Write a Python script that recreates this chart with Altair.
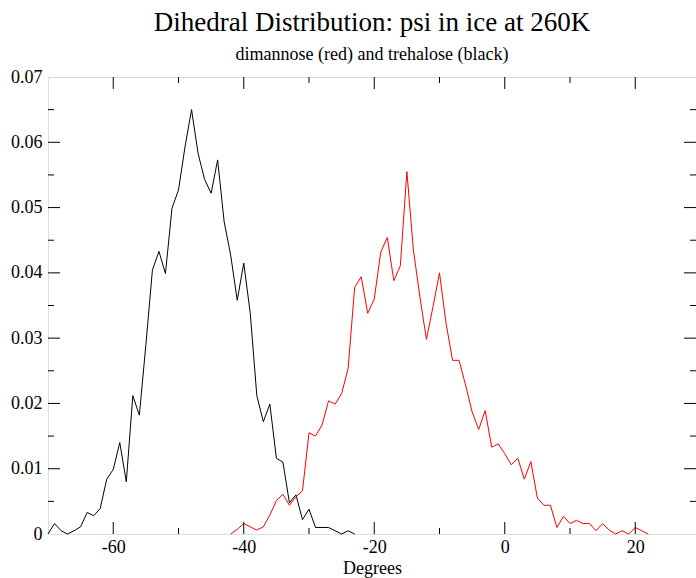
import altair as alt
import pandas as pd

# psi dihedral histograms (1-degree bins)
trehalose_angle = list(range(-70, -22))
trehalose_density = [
    0.0, 0.0016, 0.0005, 0.0, 0.0005, 0.0011, 0.0033, 0.0028, 0.0039, 0.0084,
    0.0099, 0.0140, 0.0080, 0.0212, 0.0182, 0.0290, 0.0404, 0.0433, 0.0399, 0.0499,
    0.0527, 0.0593, 0.0650, 0.0583, 0.0543, 0.0522, 0.0573, 0.0478, 0.0427, 0.0358,
    0.0415, 0.0338, 0.0212, 0.0172, 0.0199, 0.0116, 0.0110, 0.0048, 0.0060, 0.0022,
    0.0038, 0.0010, 0.0010, 0.0010, 0.0005, 0.0, 0.0005, 0.0,
]
dimannose_angle = list(range(-42, 23))
dimannose_density = [
    0.0, 0.0007, 0.0016, 0.0011, 0.0006, 0.0011, 0.0029, 0.0051, 0.0061, 0.0044,
    0.0057, 0.0066, 0.0155, 0.0150, 0.0167, 0.0204, 0.0199, 0.0215, 0.0254, 0.0378,
    0.0394, 0.0338, 0.0360, 0.0432, 0.0454, 0.0388, 0.0411, 0.0555, 0.0435, 0.0363,
    0.0298, 0.0348, 0.0400, 0.0323, 0.0266, 0.0266, 0.0228, 0.0187, 0.0160, 0.0189,
    0.0133, 0.0138, 0.0123, 0.0106, 0.0116, 0.0084, 0.0111, 0.0055, 0.0044, 0.0044,
    0.0010, 0.0027, 0.0016, 0.0021, 0.0016, 0.0016, 0.0005, 0.0016, 0.0006, 0.0,
    0.0005, 0.0, 0.0010, 0.0005, 0.0,
]

series_names = ["trehalose", "dimannose"]
series_colors = ["#000000", "#ff0000"]

x_major_values = [-60, -40, -20, 0, 20]
x_minor_values = [-50, -30, -10, 10]
y_label_values = [0, 0.01, 0.02, 0.03, 0.04, 0.05, 0.06, 0.07]
y_major_values = [0.01, 0.02, 0.03, 0.04, 0.05, 0.06]
y_minor_values = [0.005, 0.015, 0.025, 0.035, 0.045, 0.055, 0.065]

df = pd.concat([
    pd.DataFrame({"angle": trehalose_angle, "density": trehalose_density,
                  "series": "trehalose"}),
    pd.DataFrame({"angle": dimannose_angle, "density": dimannose_density,
                  "series": "dimannose"}),
])

W, H = 648, 457
X_MIN, X_MAX = -70, -70 + W / 6.525
Y_MIN, Y_MAX = 0.0, 0.07
FONT = "Liberation Serif"
MAJOR, MINOR = 12, 6

x_scale = alt.Scale(domain=[X_MIN, X_MAX], nice=False, zero=False)
y_scale = alt.Scale(domain=[Y_MIN, Y_MAX], nice=False, zero=True)

# curves with the labelled axes
curves = alt.Chart(df).mark_line(strokeWidth=1).encode(
    x=alt.X("angle:Q", scale=x_scale,
            axis=alt.Axis(orient="bottom", values=x_major_values, ticks=False,
                          domain=False, grid=False, title="Degrees",
                          labelExpr="toString(datum.value)",
                          labelFont=FONT, labelFontSize=18, labelColor="black",
                          labelPadding=4, titleFont=FONT, titleFontSize=18,
                          titleFontWeight="normal", titleColor="black",
                          titlePadding=3)),
    y=alt.Y("density:Q", scale=y_scale,
            axis=alt.Axis(orient="left", values=y_label_values, ticks=False,
                          domain=False, grid=False, title=None,
                          labelExpr="datum.value == 0 ? '0' : format(datum.value, '.2f')",
                          labelFont=FONT, labelFontSize=18, labelColor="black",
                          labelPadding=6)),
    color=alt.Color("series:N", scale=alt.Scale(domain=series_names, range=series_colors),
                    legend=None),
)


def edge_ticks(angles, densities, vertical, size, shift):
    """Inward-pointing frame ticks at the given positions on one edge."""
    frame = pd.DataFrame({"angle": angles, "density": densities})
    mark_kw = dict(orient="vertical" if vertical else "horizontal", size=size,
                   thickness=1, color="black", opacity=1)
    if vertical:
        mark_kw["yOffset"] = shift
    else:
        mark_kw["xOffset"] = shift
    return alt.Chart(frame).mark_tick(**mark_kw).encode(
        x=alt.X("angle:Q", scale=x_scale, axis=None),
        y=alt.Y("density:Q", scale=y_scale, axis=None),
    )


tick_layers = []
for size, xv, yv in [(MAJOR, x_major_values, y_major_values),
                     (MINOR, x_minor_values, y_minor_values)]:
    half = size / 2
    tick_layers += [
        edge_ticks(xv, Y_MIN, True, size, -half),   # bottom edge
        edge_ticks(xv, Y_MAX, True, size, half),    # top edge
        edge_ticks(X_MIN, yv, False, size, half),   # left edge
        edge_ticks(X_MAX, yv, False, size, -half),  # right edge
    ]

chart = alt.layer(curves, *tick_layers).resolve_axis(
    x="independent", y="independent"
).properties(
    width=W,
    height=H,
    autosize=alt.AutoSizeParams(type="none"),
    padding={"left": 48, "top": 77, "right": 0, "bottom": 44},
    title=alt.TitleParams(
        text="Dihedral Distribution: psi in ice at 260K",
        subtitle="dimannose (red) and trehalose (black)",
        font=FONT, fontSize=27, fontWeight="normal", color="black",
        subtitleFont=FONT, subtitleFontSize=18, subtitleColor="black",
        subtitlePadding=9, anchor="middle", offset=3,
    ),
).configure_view(
    stroke="black", strokeWidth=1
).configure(background="white")

chart.save("out.html", embed_options={"renderer": "svg", "actions": False})
